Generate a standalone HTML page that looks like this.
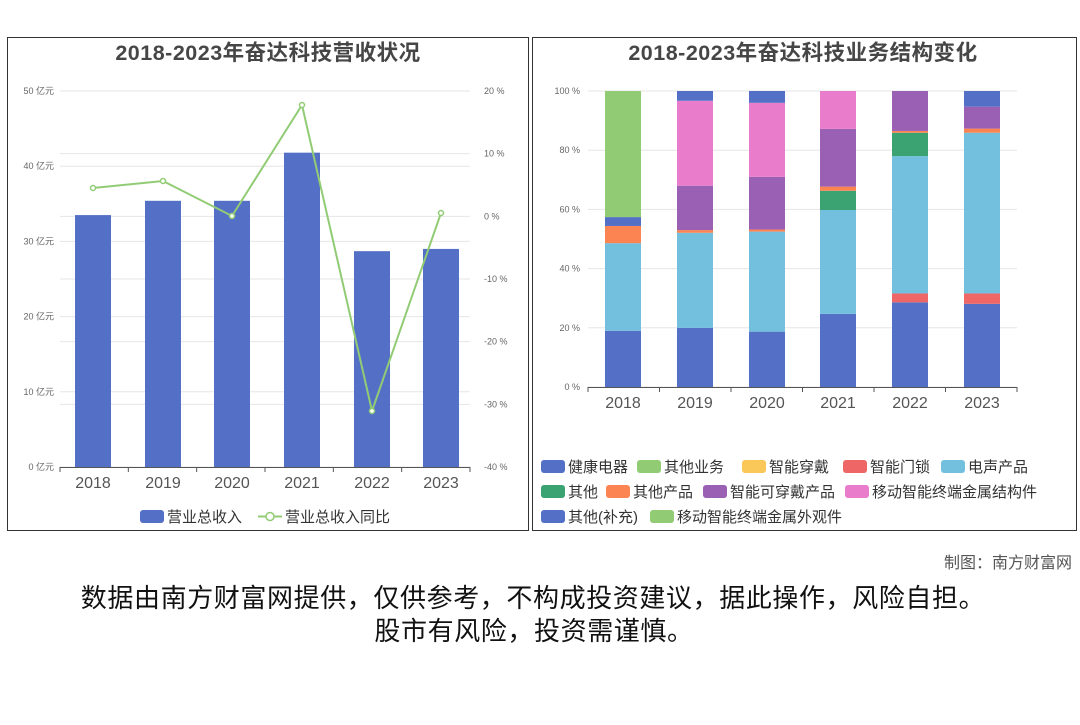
<!DOCTYPE html>
<html><head><meta charset="utf-8">
<style>
body{margin:0;background:#fff;width:1080px;height:720px;overflow:hidden;font-family:"Liberation Sans","Noto Sans CJK SC",sans-serif}
</style></head><body>
<svg id="s" width="1080" height="720" xmlns="http://www.w3.org/2000/svg" font-family="Liberation Sans, Noto Sans CJK SC, sans-serif">
<rect x="7.5" y="37.5" width="521" height="493" fill="none" stroke="#333"/>
<rect x="532.5" y="37.5" width="544" height="493" fill="none" stroke="#333"/>
<text x="268" y="60" text-anchor="middle" font-size="21.5" font-weight="bold" letter-spacing="0.5" fill="#464646">2018-2023年奋达科技营收状况</text>
<text x="803" y="60" text-anchor="middle" font-size="21.5" font-weight="bold" letter-spacing="0.5" fill="#464646">2018-2023年奋达科技业务结构变化</text>
<g id="L" font-size="9" fill="#666"></g>
<g id="R" font-size="9" fill="#666"></g>
<rect x="140" y="510" width="24" height="13" rx="3" fill="#5470c6"/>
<text x="167" y="522" font-size="15" fill="#333">营业总收入</text>
<line x1="258" y1="516.5" x2="282" y2="516.5" stroke="#91cc75" stroke-width="2"/>
<circle cx="270" cy="516.5" r="4" fill="#fff" stroke="#91cc75" stroke-width="1.5"/>
<text x="285" y="522" font-size="15" fill="#333">营业总收入同比</text>
<g font-size="15" fill="#333">
<rect x="541" y="460" width="24" height="13" rx="3" fill="#5470c6"/><text x="568" y="472">健康电器</text>
<rect x="637" y="460" width="24" height="13" rx="3" fill="#91cc75"/><text x="664" y="472">其他业务</text>
<rect x="742" y="460" width="24" height="13" rx="3" fill="#fac858"/><text x="769" y="472">智能穿戴</text>
<rect x="843" y="460" width="24" height="13" rx="3" fill="#ee6666"/><text x="870" y="472">智能门锁</text>
<rect x="941" y="460" width="24" height="13" rx="3" fill="#73c0de"/><text x="968" y="472">电声产品</text>
<rect x="541" y="485" width="24" height="13" rx="3" fill="#3ba272"/><text x="568" y="497">其他</text>
<rect x="606" y="485" width="24" height="13" rx="3" fill="#fc8452"/><text x="633" y="497">其他产品</text>
<rect x="703" y="485" width="24" height="13" rx="3" fill="#9a60b4"/><text x="730" y="497">智能可穿戴产品</text>
<rect x="845" y="485" width="24" height="13" rx="3" fill="#ea7ccc"/><text x="872" y="497">移动智能终端金属结构件</text>
<rect x="541" y="510" width="24" height="13" rx="3" fill="#5470c6"/><text x="568" y="522">其他(补充)</text>
<rect x="650" y="510" width="24" height="13" rx="3" fill="#91cc75"/><text x="677" y="522">移动智能终端金属外观件</text>
</g>
<text x="1072" y="568" text-anchor="end" font-size="16" fill="#555">制图：南方财富网</text>
<text x="533" y="607" text-anchor="middle" font-size="26" letter-spacing="0.6" fill="#111">数据由南方财富网提供，仅供参考，不构成投资建议，据此操作，风险自担。</text>
<text x="534" y="640" text-anchor="middle" font-size="26" letter-spacing="0.6" fill="#111">股市有风险，投资需谨慎。</text>
</svg>
<script>
var NS="http://www.w3.org/2000/svg";
function el(p,t,a,txt){var e=document.createElementNS(NS,t);for(var k in a)e.setAttribute(k,a[k]);if(txt!==undefined)e.textContent=txt;document.getElementById(p).appendChild(e);return e;}
var yrs=["2018","2019","2020","2021","2022","2023"];
var T1=91,B1=467;
for(var i=0;i<=5;i++){var y=B1-i*(B1-T1)/5;el("L","line",{x1:60,x2:470,y1:y,y2:y,stroke:"#e6e6e6"});el("L","text",{x:54,y:y+3,"text-anchor":"end"},(i*10)+" 亿元");}
for(var i=0;i<=6;i++){var y=T1+i*(B1-T1)/6;el("L","line",{x1:60,x2:470,y1:y,y2:y,stroke:"#e6e6e6"});el("L","text",{x:484,y:y+3},(20-10*i)+" %");}
var cx=[93,163,232,302,372,441],rev=[33.5,35.4,35.4,41.8,28.7,29.0];
for(var i=0;i<6;i++){var h=rev[i]*(B1-T1)/50;el("L","rect",{x:cx[i]-18,y:B1-h,width:36,height:h,fill:"#5470c6"});
el("L","text",{x:cx[i],y:488,"text-anchor":"middle","font-size":16,fill:"#555"},yrs[i]);}
el("L","line",{x1:60,x2:470,y1:B1+.5,y2:B1+.5,stroke:"#555"});
for(var i=0;i<=6;i++){var x=60+i*410/6;el("L","line",{x1:x,x2:x,y1:B1,y2:B1+5,stroke:"#555"});}
var pts=[[93,188],[163,181],[232,216],[302,105],[372,411],[441,213]];
el("L","polyline",{points:pts.map(function(p){return p.join(",")}).join(" "),fill:"none",stroke:"#91cc75","stroke-width":2});
pts.forEach(function(p){el("L","circle",{cx:p[0],cy:p[1],r:2.5,fill:"#fff",stroke:"#91cc75","stroke-width":1.5});});
var T2=91,B2=387,x0=588,x1=1017;
for(var i=0;i<=5;i++){var y=B2-i*(B2-T2)/5;el("R","line",{x1:x0,x2:x1,y1:y,y2:y,stroke:"#e6e6e6"});el("R","text",{x:580,y:y+3,"text-anchor":"end"},(i*20)+" %");}
var C={b:"#5470c6",g:"#91cc75",y:"#fac858",r:"#ee6666",l:"#73c0de",d:"#3ba272",o:"#fc8452",p:"#9a60b4",k:"#ea7ccc"};
var data=[
[["b",19],["l",48.6],["o",54.4],["b",57.4],["g",100]],
[["b",20],["l",52.1],["o",53],["p",68],["k",96.7],["b",100]],
[["b",18.7],["l",52.5],["o",53.2],["p",71],["k",96],["b",100]],
[["b",24.7],["l",59.8],["d",66.3],["o",67.7],["p",87.2],["k",100]],
[["b",28.6],["r",31.6],["l",78],["d",85.9],["o",86.5],["p",100]],
[["b",28.1],["r",31.6],["l",85.9],["o",87.3],["p",94.7],["b",100]]];
var cx2=[623,695,767,838,910,982],kk=(B2-T2)/100;
for(var i=0;i<6;i++){var prev=0;data[i].forEach(function(s){el("R","rect",{x:cx2[i]-18,y:B2-s[1]*kk,width:36,height:(s[1]-prev)*kk,fill:C[s[0]]});prev=s[1];});
el("R","text",{x:cx2[i],y:408,"text-anchor":"middle","font-size":16,fill:"#555"},yrs[i]);}
el("R","line",{x1:x0,x2:x1,y1:B2+.5,y2:B2+.5,stroke:"#555"});
for(var i=0;i<=6;i++){var x=x0+i*(x1-x0)/6;el("R","line",{x1:x,x2:x,y1:B2,y2:B2+5,stroke:"#555"});}
</script>
</body></html>
